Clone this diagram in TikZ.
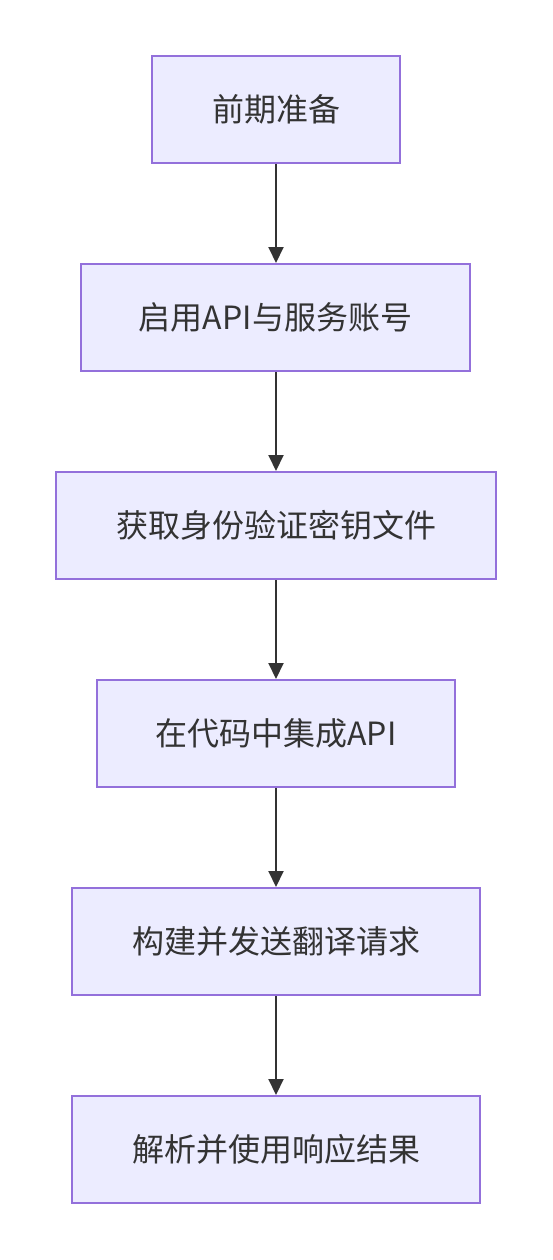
\documentclass[tikz,border=0pt]{standalone}
\usepackage{fontspec}
\setmainfont{Noto Sans CJK SC}
\usetikzlibrary{arrows.meta}
\definecolor{boxfill}{HTML}{ECECFF}
\definecolor{boxline}{HTML}{9370DB}
\definecolor{txt}{HTML}{333333}
\tikzset{
  stepbox/.style={draw=boxline, fill=boxfill, line width=2pt, text=txt, font=\fontsize{32}{38}\selectfont, inner sep=0pt},
  flow/.style={draw=txt, line width=2pt, -{Triangle[length=16pt,width=15pt]}, shorten >=0pt}
}
\begin{document}
\begin{tikzpicture}[x=1pt,y=-1pt]
\useasboundingbox (0,0) rectangle (552,1260);
\node[stepbox, minimum width=248pt, minimum height=107pt] (a) at (276,109.5) {前期准备};
\node[stepbox, minimum width=389pt, minimum height=107pt] (b) at (275.5,317.5) {启用API与服务账号};
\node[stepbox, minimum width=440pt, minimum height=107pt] (c) at (276,525.5) {获取身份验证密钥文件};
\node[stepbox, minimum width=358pt, minimum height=107pt] (d) at (276,733.5) {在代码中集成API};
\node[stepbox, minimum width=408pt, minimum height=107pt] (e) at (276,941.5) {构建并发送翻译请求};
\node[stepbox, minimum width=408pt, minimum height=107pt] (f) at (276,1149.5) {解析并使用响应结果};
\draw[flow] (a.south) -- (a.south |- b.north);
\draw[flow] (b.south -| a.south) -- (a.south |- c.north);
\draw[flow] (a.south |- c.south) -- (a.south |- d.north);
\draw[flow] (a.south |- d.south) -- (a.south |- e.north);
\draw[flow] (a.south |- e.south) -- (a.south |- f.north);
\end{tikzpicture}
\end{document}
